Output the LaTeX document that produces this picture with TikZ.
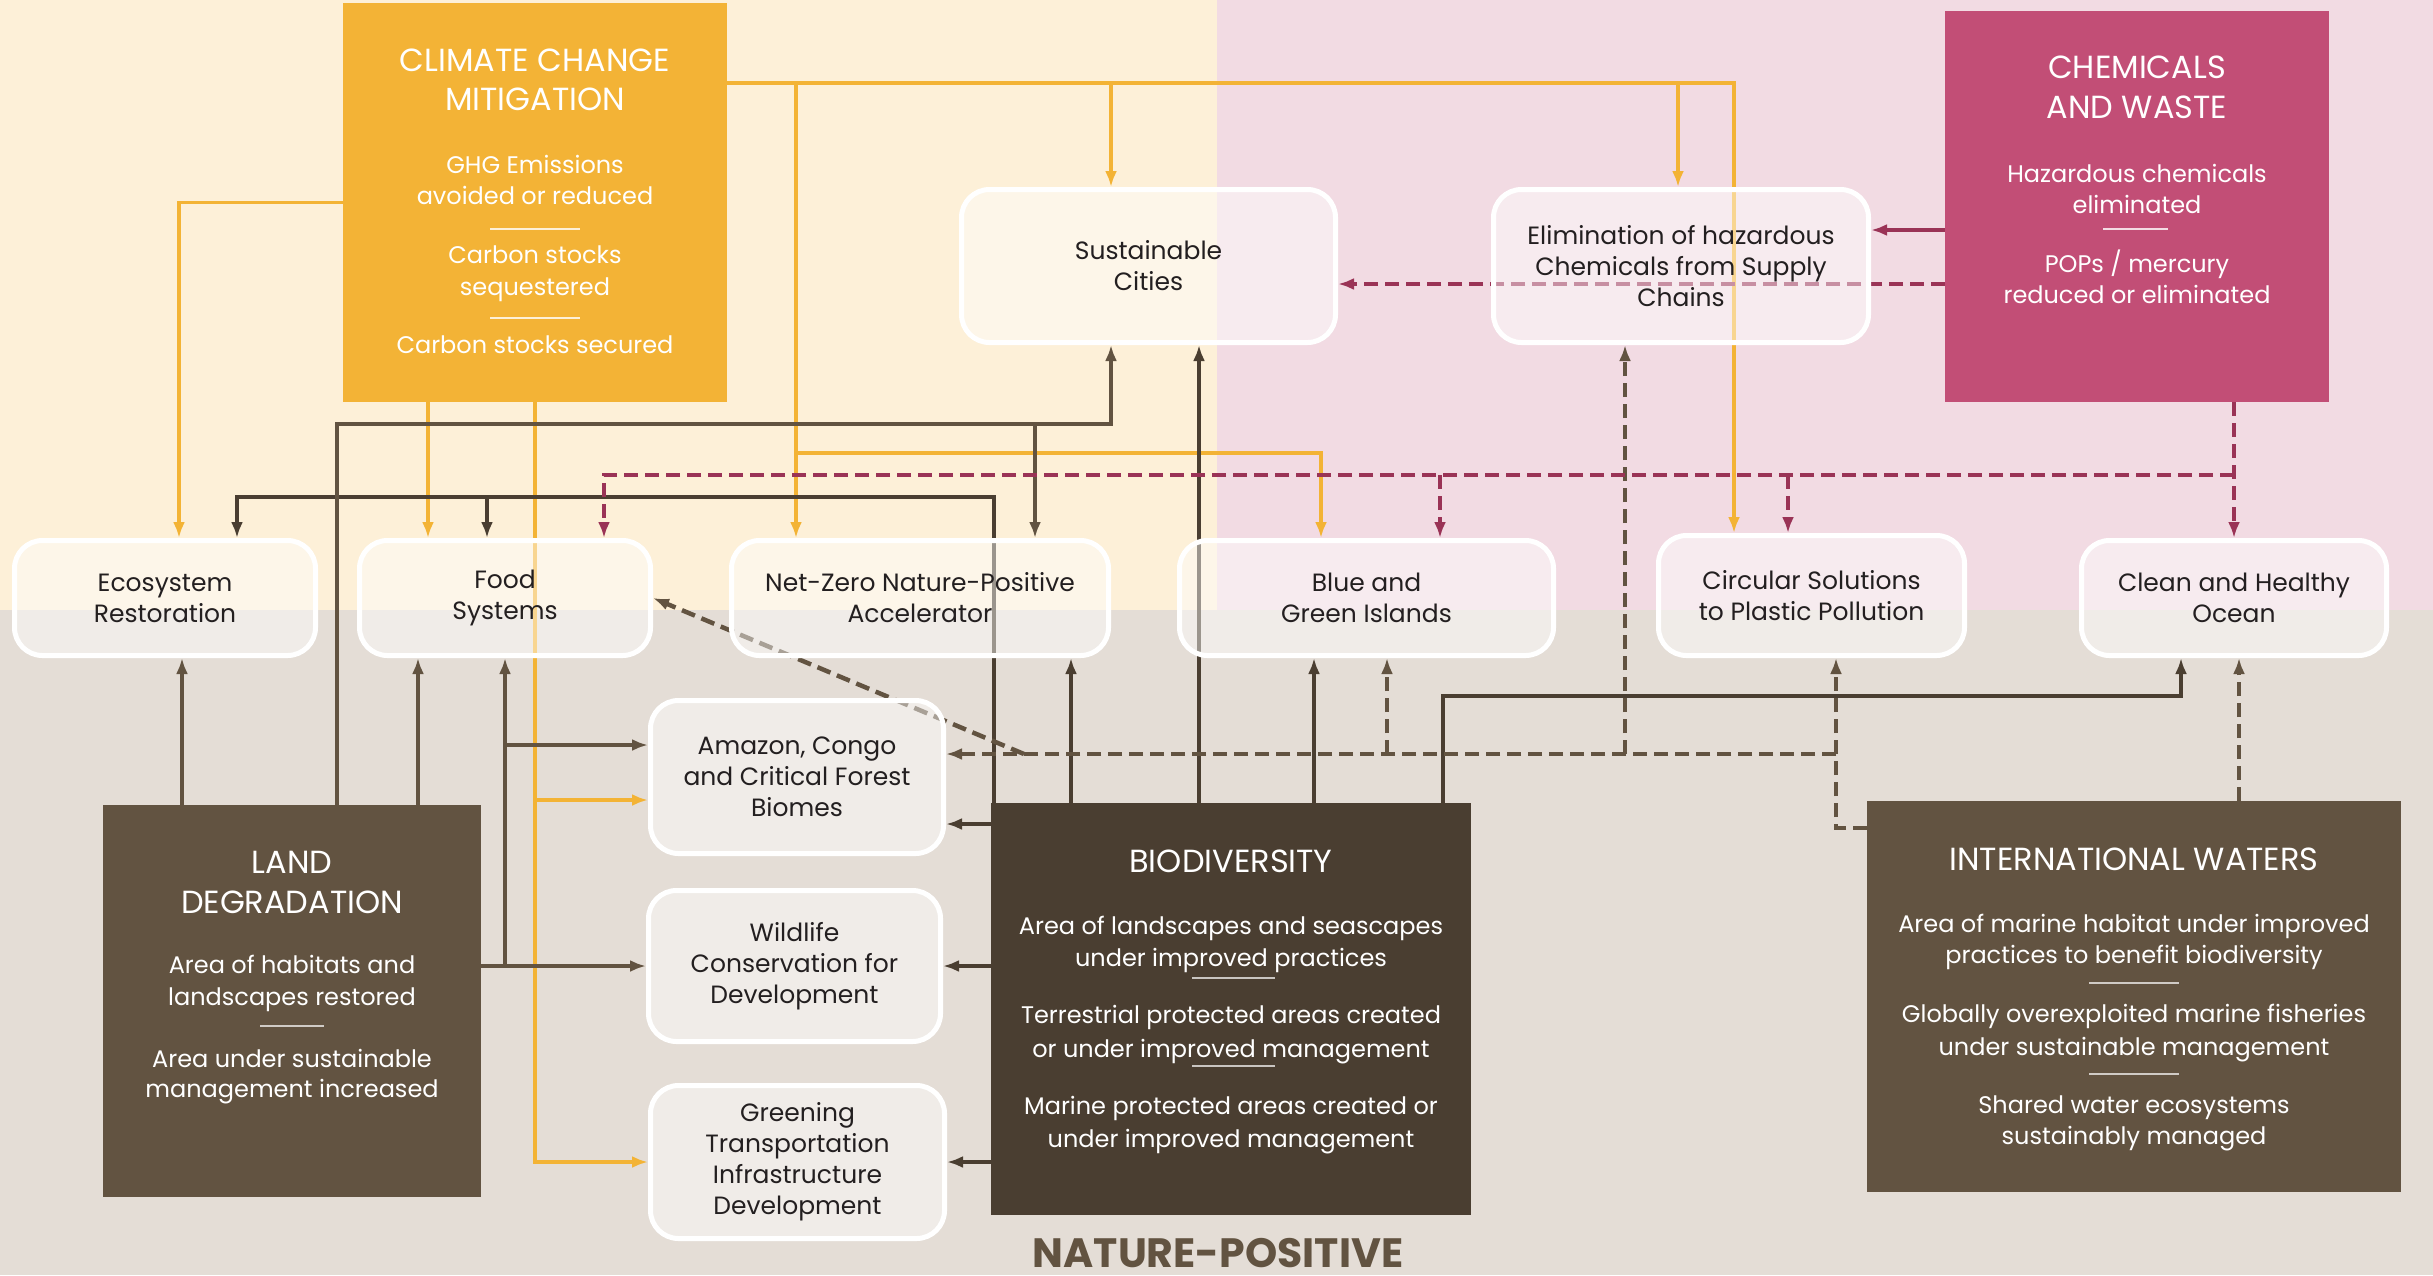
\documentclass[tikz,border=0pt]{standalone}
\usepackage{fontspec}
\setmainfont{Poppins}
\usetikzlibrary{arrows.meta}

\definecolor{bgcream}{HTML}{FDF0D8}
\definecolor{bgpink}{HTML}{F2DBE3}
\definecolor{bgbeige}{HTML}{E4DDD6}
\definecolor{ccbox}{HTML}{F3B336}
\definecolor{chembox}{HTML}{C24E76}
\definecolor{landbox}{HTML}{625341}
\definecolor{biobox}{HTML}{4A3E31}
\definecolor{ccline}{HTML}{F3B335}
\definecolor{chemline}{HTML}{9A3356}
\definecolor{outtext}{HTML}{231F20}

\pgfdeclarelayer{bg}
\pgfdeclarelayer{wires}
\pgfsetlayers{bg,wires,main}

\begin{document}
\begin{tikzpicture}[x=1pt,y=-1pt,
   bigbox/.style={inner sep=0pt, outer sep=0pt},
   outbox/.style={draw=white, line width=5pt, rounded corners=28pt, fill=white,
      fill opacity=0.45, text opacity=1, text=outtext, align=center,
      inner sep=0pt, font=\fontsize{25}{31}\selectfont},
   boxtitle/.style={anchor=base, inner sep=0pt, text=white, font=\fontsize{32}{38}\selectfont},
   boxitem/.style={anchor=base, inner sep=0pt, text=white, font=\fontsize{24}{30}\selectfont},
   sepline/.style={line width=2pt},
   wire/.style={line width=3.5pt, -{Latex[length=16pt,width=12pt]}},
   orl/.style={wire, draw=ccline},
   bdl/.style={wire, draw=biobox},
   lbl/.style={wire, draw=landbox},
   ldash/.style={wire, draw=landbox, line width=4.5pt, dash pattern=on 14pt off 7pt},
   crl/.style={wire, draw=chemline},
   crd/.style={crl, line width=4.5pt, dash pattern=on 14pt off 7pt}]

   \useasboundingbox (0,0) rectangle (2433,1275);
   \begin{pgfonlayer}{bg}
      \fill [bgcream] (0,0) rectangle (1217,610);
      \fill [bgpink] (1217,0) rectangle (2433,610);
      \fill [bgbeige] (0,610) rectangle (2433,1275);
   \end{pgfonlayer}

   % focal area boxes
   \node [bigbox, fill=ccbox, minimum width=384, minimum height=399] (climate) at (535,202.5) {};
   \node [bigbox, fill=chembox, minimum width=384, minimum height=391] (chem) at (2137,206.5) {};
   \node [bigbox, fill=landbox, minimum width=378, minimum height=392] (land) at (292,1001) {};
   \node [bigbox, fill=biobox, minimum width=480, minimum height=412] (bio) at (1231,1009) {};
   \node [bigbox, fill=landbox, minimum width=534, minimum height=391] (iw) at (2134,996.5) {};

   % integrated programs
   \node [outbox, minimum width=374, minimum height=153] (cities) at (1148.5,266) {Sustainable\\Cities};
   \node [outbox, minimum width=375, minimum height=153] (elim) at (1681,266) {Elimination of hazardous\\Chemicals from Supply\\Chains};
   \node [outbox, minimum width=301, minimum height=115] (eco) at (165,598) {Ecosystem\\Restoration};
   \node [outbox, minimum width=291, minimum height=115] (food) at (505,598) {Food\\Systems};
   \node [outbox, minimum width=377, minimum height=115] (netzero) at (920,598) {Net-Zero Nature-Positive\\Accelerator};
   \node [outbox, minimum width=374, minimum height=115] (blue) at (1366.5,598) {Blue and\\Green Islands};
   \node [outbox, minimum width=306, minimum height=120] (circ) at (1811.5,595.5) {Circular Solutions\\to Plastic Pollution};
   \node [outbox, minimum width=305, minimum height=115] (ocean) at (2234,598) {Clean and Healthy\\Ocean};
   \node [outbox, minimum width=293, minimum height=153] (amazon) at (797,777) {Amazon, Congo\\and Critical Forest\\Biomes};
   \node [outbox, minimum width=292, minimum height=151] (wildlife) at (794.5,966) {Wildlife\\Conservation for\\Development};
   \node [outbox, minimum width=294, minimum height=153] (green) at (797.5,1162) {Greening\\Transportation\\Infrastructure\\Development};

   % climate change mitigation
   \node [boxtitle] (cct1) at (535,71) {CLIMATE CHANGE};
   \node [boxtitle] (cct2) at (535,110) {MITIGATION};
   \node [boxitem] (cci1) at (535,173) {GHG Emissions};
   \node [boxitem] (cci2) at (535,204) {avoided or reduced};
   \node [boxitem] (cci3) at (535,263) {Carbon stocks};
   \node [boxitem] (cci4) at (535,295) {sequestered};
   \node [boxitem] (cci5) at (535,353) {Carbon stocks secured};
   \draw [sepline, draw=white!80!ccbox] (490,229) -- (580,229);
   \draw [sepline, draw=white!80!ccbox] (490,318) -- (580,318);

   % chemicals and waste
   \node [boxtitle] (cwt1) at (2137,78) {CHEMICALS};
   \node [boxtitle] (cwt2) at (2137,118) {AND WASTE};
   \node [boxitem] (cwi1) at (2137,182) {Hazardous chemicals};
   \node [boxitem] (cwi2) at (2137,213) {eliminated};
   \node [boxitem] (cwi3) at (2137,272) {POPs / mercury};
   \node [boxitem] (cwi4) at (2137,303) {reduced or eliminated};
   \draw [sepline, draw=white!80!chembox] (2103,229) -- (2168,229);

   % land degradation
   \node [boxtitle] (ldt1) at (292,873) {LAND};
   \node [boxtitle] (ldt2) at (292,913) {DEGRADATION};
   \node [boxitem] (ldi1) at (292,973) {Area of habitats and};
   \node [boxitem] (ldi2) at (292,1005) {landscapes restored};
   \node [boxitem] (ldi3) at (292,1067) {Area under sustainable};
   \node [boxitem] (ldi4) at (292,1097) {management increased};
   \draw [sepline, draw=white!70!landbox] (260,1026) -- (324,1026);

   % biodiversity
   \node [boxtitle] (bdt1) at (1231,872) {BIODIVERSITY};
   \node [boxitem] (bdi1) at (1231,934) {Area of landscapes and seascapes};
   \node [boxitem] (bdi2) at (1231,966) {under improved practices};
   \node [boxitem] (bdi3) at (1231,1023) {Terrestrial protected areas created};
   \node [boxitem] (bdi4) at (1231,1057) {or under improved management};
   \node [boxitem] (bdi5) at (1231,1114) {Marine protected areas created or};
   \node [boxitem] (bdi6) at (1231,1147) {under improved management};
   \draw [sepline, draw=white!70!biobox] (1192,978) -- (1275,978);
   \draw [sepline, draw=white!70!biobox] (1192,1066) -- (1275,1066);

   % international waters
   \node [boxtitle] (iwt1) at (2134,870) {INTERNATIONAL WATERS};
   \node [boxitem] (iwi1) at (2134,932) {Area of marine habitat under improved};
   \node [boxitem] (iwi2) at (2134,963) {practices to benefit biodiversity};
   \node [boxitem] (iwi3) at (2134,1022) {Globally overexploited marine fisheries};
   \node [boxitem] (iwi4) at (2134,1055) {under sustainable management};
   \node [boxitem] (iwi5) at (2134,1113) {Shared water ecosystems};
   \node [boxitem] (iwi6) at (2134,1144) {sustainably managed};
   \draw [sepline, draw=white!70!landbox] (2089,983) -- (2179,983);
   \draw [sepline, draw=white!70!landbox] (2089,1074) -- (2179,1074);

   \node [anchor=base, inner sep=0pt, text=landbox, font=\bfseries\fontsize{41}{46}\selectfont] (np) at (1218,1267) {NATURE-POSITIVE};

   % junctions
   \coordinate (ccE) at ([yshift=119.5pt]climate.east);
   \coordinate (citO) at ([xshift=-37.5pt]cities.north);
   \coordinate (elimO) at ([xshift=-3pt]elim.north);
   \coordinate (nzO) at ([xshift=-124pt]netzero.north);
   \coordinate (blO) at ([xshift=-45.5pt]blue.north);
   \coordinate (obus) at (796,453);
   \coordinate (amzO) at ([yshift=-23pt]amazon.west);
   \coordinate (bbus) at (994,497);
   \coordinate (fdB) at ([xshift=-18pt]food.north);
   \coordinate (bioc) at (1443,696);
   \coordinate (ocB) at ([xshift=-53pt]ocean.south);
   \coordinate (amB) at ([yshift=-47pt]amazon.east);
   \coordinate (lbus) at (337,424);
   \coordinate (citL) at ([xshift=-37.5pt]cities.south);
   \coordinate (nzL) at ([xshift=115pt]netzero.north);
   \coordinate (amL) at ([yshift=32pt]amazon.west);
   \coordinate (cirI) at ([xshift=24.5pt]circ.south);
   \coordinate (amI) at ([yshift=23pt]amazon.east);
   \coordinate (elI) at ([xshift=-56pt]elim.south);
   \coordinate (blI) at ([xshift=20.5pt]blue.south);
   \coordinate (fdj) at (1024,754);
   \coordinate (elimC) at ([yshift=36pt]elim.east);
   \coordinate (citC) at ([yshift=-18pt]cities.east);
   \coordinate (cbus) at (2234,475);
   \coordinate (fdC) at ([xshift=99pt]food.north);
   \coordinate (blC) at ([xshift=73.5pt]blue.north);
   \coordinate (cirC) at ([xshift=-23.5pt]circ.north);

   \begin{pgfonlayer}{wires}
      % climate change
      \draw [orl] (climate.west) -| ([xshift=14pt]eco.north);
      \draw [orl] ([xshift=-107pt]climate.south) -- ([xshift=-77pt]food.north);
      \draw [orl] (climate.south) |- (green.west);
      \draw [orl] (climate.south |- amzO) -- (amzO);
      \draw [orl] (ccE) -| ([xshift=-77.5pt]circ.north);
      \draw [orl] (citO |- ccE) -- (citO);
      \draw [orl] (elimO |- ccE) -- (elimO);
      \draw [orl] (nzO |- ccE) -- (nzO);
      \draw [orl] (obus) -| (blO);

      % biodiversity
      \draw [bdl] ([xshift=-237pt]bio.north) -- (bbus) -| ([xshift=72pt]eco.north);
      \draw [bdl] (fdB |- bbus) -- (fdB);
      \draw [bdl] ([xshift=-160pt]bio.north) -- ([xshift=151pt]netzero.south);
      \draw [bdl] ([xshift=-32pt]bio.north) -- ([xshift=50.5pt]cities.south);
      \draw [bdl] ([xshift=83pt]bio.north) -- ([xshift=-52.5pt]blue.south);
      \draw [bdl] ([xshift=212pt]bio.north) -- (bioc) -| (ocB);
      \draw [bdl] (bio.west |- amB) -- (amB);
      \draw [bdl] (bio.west |- wildlife.east) -- (wildlife.east);
      \draw [bdl] (bio.west |- green.east) -- (green.east);

      % land degradation
      \draw [lbl] ([xshift=-110pt]land.north) -- ([xshift=17pt]eco.south);
      \draw [lbl] ([xshift=45pt]land.north) -- (lbus) -| (citL);
      \draw [lbl] (nzL |- lbus) -- (nzL);
      \draw [lbl] ([xshift=126pt]land.north) -- ([xshift=-87pt]food.south);
      \draw [lbl] (land.east |- wildlife.west) -- (wildlife.west);
      \draw [lbl] (food.south |- wildlife.west) -- (food.south);
      \draw [lbl] (food.south |- amL) -- (amL);

      % international waters
      \draw [ldash] ([yshift=168.5pt]iw.west) -| (cirI);
      \draw [ldash] (cirI |- amI) -- (amI);
      \draw [ldash] (elI |- amI) -- (elI);
      \draw [ldash] (blI |- amI) -- (blI);
      \draw [ldash] (fdj) -- (food.east);
      \draw [ldash] ([xshift=105pt]iw.north) -- ([xshift=5pt]ocean.south);

      % chemicals and waste
      \draw [crl] (chem.west |- elimC) -- (elimC);
      \draw [crd] (chem.west |- citC) -- (citC);
      \draw [crd] (ocean.north |- chem.south) -- (ocean.north);
      \draw [crd] (cbus) -| (fdC);
      \draw [crd] (blC |- cbus) -- (blC);
      \draw [crd] (cirC |- cbus) -- (cirC);
   \end{pgfonlayer}
\end{tikzpicture}
\end{document}
